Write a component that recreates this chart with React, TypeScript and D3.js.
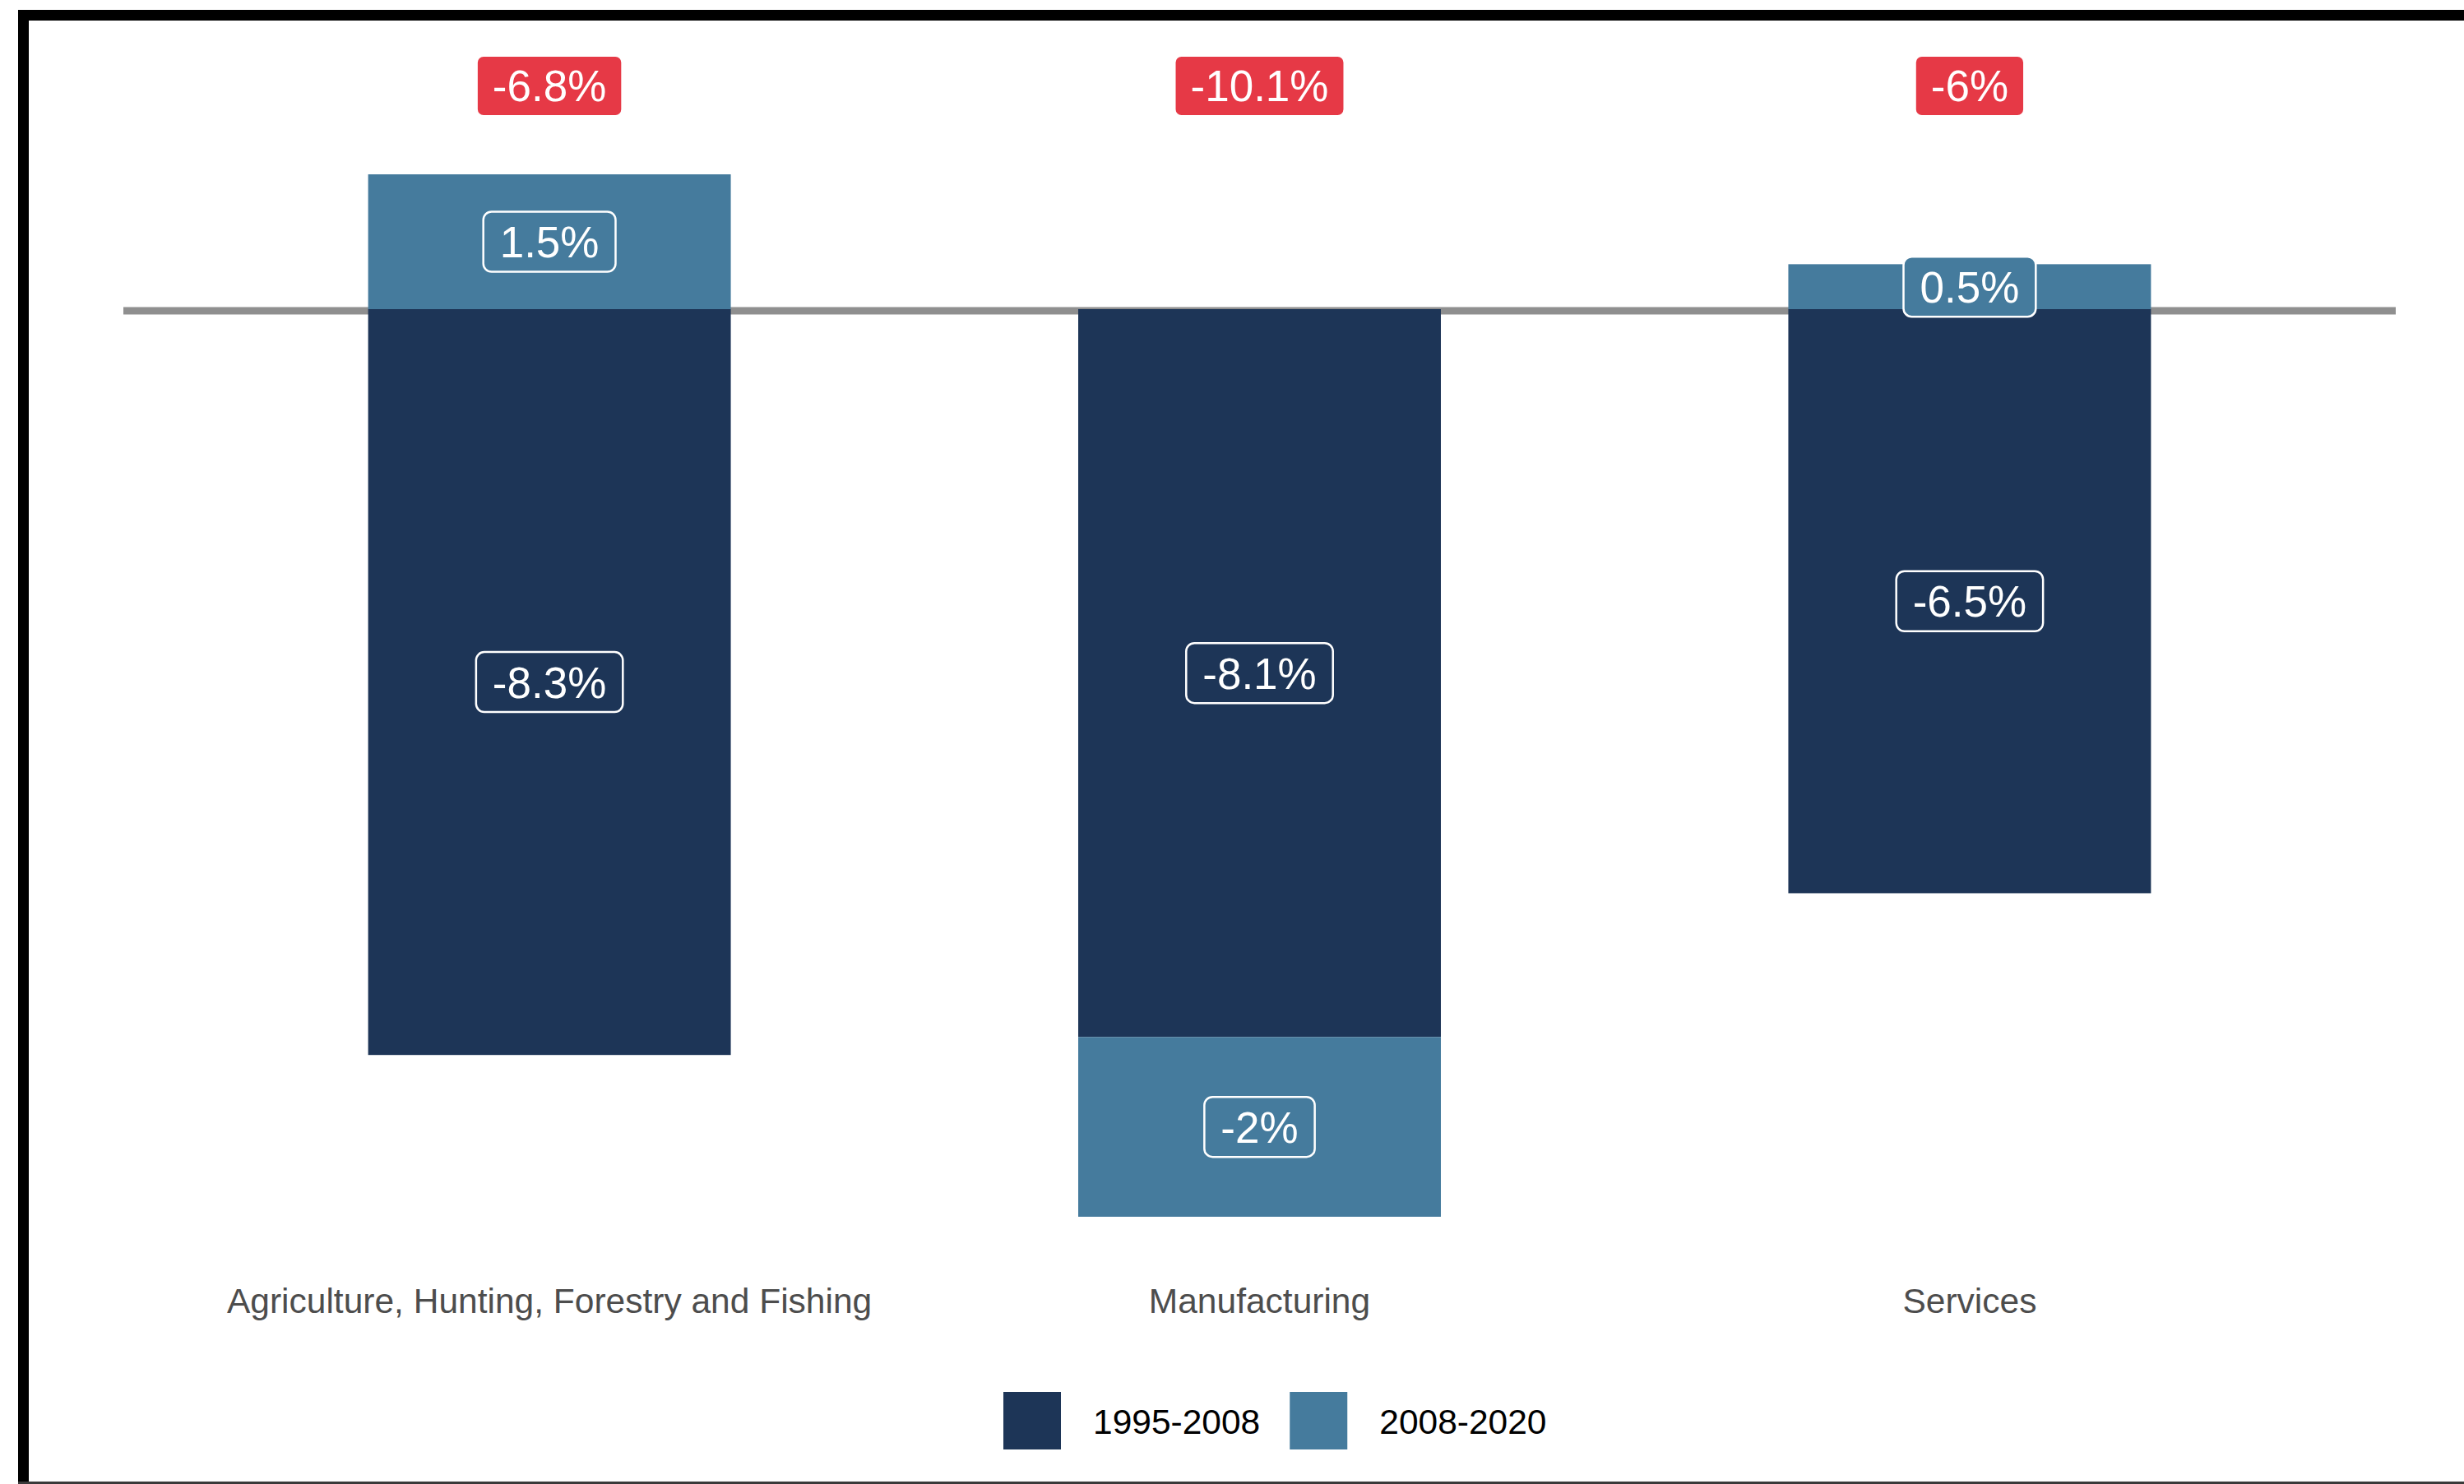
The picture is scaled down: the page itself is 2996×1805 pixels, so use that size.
import React, { useEffect, useRef } from "react";
import * as d3 from "d3";

// ---- data ----
const categories = [
  "Agriculture, Hunting, Forestry and Fishing",
  "Manufacturing",
  "Services",
];
const seriesKeys = ["1995-2008", "2008-2020"];
const values1995_2008 = [-8.3, -8.1, -6.5];
const values2008_2020 = [1.5, -2.0, 0.5];
const totals = [-6.8, -10.1, -6.0];

// ---- style / layout ----
const W = 2996;
const H = 1805;
const COLORS: Record<string, string> = {
  "1995-2008": "#1D3557",
  "2008-2020": "#457B9D",
};
const RED = "#E63946";
const FONT = "'Liberation Sans', Arial, Helvetica, sans-serif";
const PANEL_LEFT = 150;
const PANEL_RIGHT = 2913;
const ZERO_Y = 376;
const PX_PER_UNIT = 109.3;
const TOP_LABEL_Y = 104.5;
const LABEL_FS = 53;
const AXIS_FS = 42.5;

const fmt = (v: number) => `${+v.toFixed(1)}%`;

export default function App() {
  const ref = useRef<SVGSVGElement>(null);

  useEffect(() => {
    document.body.style.margin = "0";
    const svg = d3.select(ref.current);
    svg.selectAll("*").remove();

    svg.append("rect").attr("width", W).attr("height", H).attr("fill", "#ffffff");

    // frame (screenshot border)
    svg.append("rect").attr("x", 22).attr("y", 12).attr("width", W - 22).attr("height", 13).attr("fill", "#000");
    svg.append("rect").attr("x", 22).attr("y", 12).attr("width", 13).attr("height", H - 12).attr("fill", "#000");
    svg.append("rect").attr("x", 22).attr("y", 1802).attr("width", W - 22).attr("height", 3).attr("fill", "#3a3a3a");

    const x = d3
      .scaleBand<string>()
      .domain(categories)
      .range([PANEL_LEFT, PANEL_RIGHT])
      .paddingInner(0.4893)
      .paddingOuter(0.3447);
    const y = d3
      .scaleLinear()
      .domain([0, -10])
      .range([ZERO_Y, ZERO_Y + 10 * PX_PER_UNIT]);

    // zero line
    svg
      .append("line")
      .attr("x1", PANEL_LEFT)
      .attr("x2", PANEL_RIGHT)
      .attr("y1", y(0) + 2)
      .attr("y2", y(0) + 2)
      .attr("stroke", "#8f8f8f")
      .attr("stroke-width", 9);

    const rows = categories.map((c, i) => ({
      category: c,
      "1995-2008": values1995_2008[i],
      "2008-2020": values2008_2020[i],
    }));
    const stacked = d3
      .stack<any>()
      .keys(seriesKeys)
      .offset(d3.stackOffsetDiverging)(rows);

    // bars
    stacked.forEach((layer) => {
      svg
        .append("g")
        .selectAll("rect")
        .data(layer)
        .join("rect")
        .attr("x", (d: any) => x(d.data.category)!)
        .attr("width", x.bandwidth())
        .attr("y", (d: any) => y(Math.max(d[0], d[1])))
        .attr("height", (d: any) => Math.abs(y(d[0]) - y(d[1])))
        .attr("fill", COLORS[layer.key]);
    });

    const addLabel = (
      cx: number,
      cy: number,
      text: string,
      fill: string,
      stroke: string | null,
      padX: number,
      h: number,
      r: number
    ) => {
      const g = svg.append("g");
      const rect = g.append("rect");
      const t = g
        .append("text")
        .attr("x", cx)
        .attr("y", cy + (LABEL_FS * 0.716) / 2)
        .attr("text-anchor", "middle")
        .attr("font-family", FONT)
        .attr("font-size", LABEL_FS)
        .attr("fill", "#ffffff")
        .text(text);
      const tw = (t.node() as SVGTextElement).getComputedTextLength();
      const w = tw + 2 * padX;
      rect
        .attr("x", cx - w / 2)
        .attr("y", cy - h / 2)
        .attr("width", w)
        .attr("height", h)
        .attr("rx", r)
        .attr("ry", r)
        .attr("fill", fill);
      if (stroke) rect.attr("stroke", stroke).attr("stroke-width", 2.5);
    };

    // in-bar labels
    stacked.forEach((layer) => {
      layer.forEach((d: any) => {
        const v = d.data[layer.key];
        const cx = x(d.data.category)! + x.bandwidth() / 2;
        const cy = (y(d[0]) + y(d[1])) / 2;
        addLabel(cx, cy, fmt(v), COLORS[layer.key], "#ffffff", 20, 73, 10);
      });
    });

    // total labels
    categories.forEach((c, i) => {
      const cx = x(c)! + x.bandwidth() / 2;
      addLabel(cx, TOP_LABEL_Y, fmt(totals[i]), RED, null, 18, 71, 7);
    });

    // x axis labels
    svg
      .append("g")
      .selectAll("text")
      .data(categories)
      .join("text")
      .attr("x", (c) => x(c)! + x.bandwidth() / 2)
      .attr("y", 1597)
      .attr("text-anchor", "middle")
      .attr("font-family", FONT)
      .attr("font-size", AXIS_FS)
      .attr("fill", "#4d4d4d")
      .text((c) => c);

    // legend
    const lg = svg.append("g");
    let lx = 1220;
    seriesKeys.forEach((k) => {
      lg.append("rect")
        .attr("x", lx)
        .attr("y", 1693)
        .attr("width", 70)
        .attr("height", 70)
        .attr("fill", COLORS[k]);
      const t = lg
        .append("text")
        .attr("x", lx + 70 + 39)
        .attr("y", 1744)
        .attr("font-family", FONT)
        .attr("font-size", AXIS_FS)
        .attr("fill", "#000")
        .text(k);
      const tw = (t.node() as SVGTextElement).getComputedTextLength();
      lx = lx + 70 + 39 + tw + 36;
    });
  }, []);

  return (
    <svg
      ref={ref}
      width={W}
      height={H}
      style={{ position: "absolute", left: 0, top: 0, display: "block" }}
    />
  );
}
